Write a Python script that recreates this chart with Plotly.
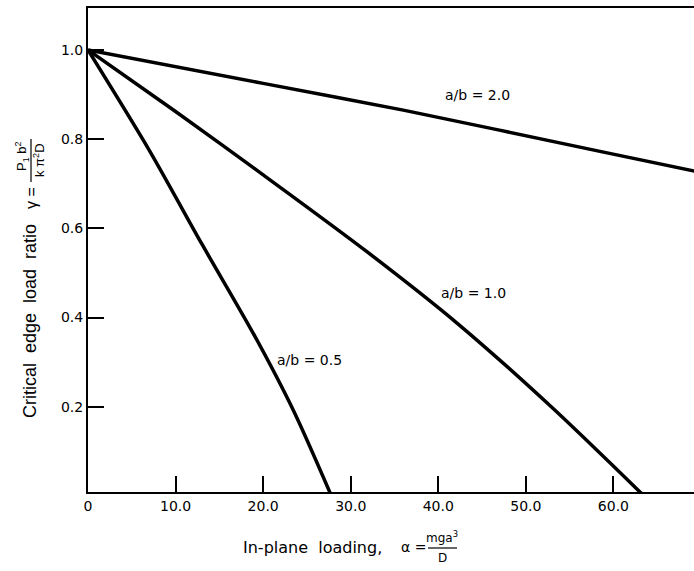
import plotly.graph_objects as go

# Critical edge load ratio (gamma) against in-plane loading (alpha) for three plate aspect ratios
alpha_05 = [0.0, 7.0, 13.0, 19.0, 23.5, 27.8]
gamma_05 = [1.0, 0.775, 0.565, 0.36, 0.19, 0.0]

alpha_10 = [0.0, 10.0, 20.0, 31.7, 42.0, 52.9, 63.5]
gamma_10 = [1.0, 0.862, 0.72, 0.55, 0.39, 0.20, 0.0]

alpha_20 = [0.0, 20.0, 36.0, 58.6, 69.3]
gamma_20 = [1.0, 0.925, 0.865, 0.772, 0.728]

curve_names = ["a/b = 0.5", "a/b = 1.0", "a/b = 2.0"]
# label anchor for each curve (alpha, gamma)
label_alpha = [25.3, 44.0, 44.5]
label_gamma = [0.305, 0.455, 0.90]

x_tickvals = [0, 10, 20, 30, 40, 50, 60]
x_ticktext = ["0", "10.0", "20.0", "30.0", "40.0", "50.0", "60.0"]
y_tickvals = [0.2, 0.4, 0.6, 0.8, 1.0]
y_ticktext = ["0.2", "0.4", "0.6", "0.8", "1.0"]

LETTER = "DejaVu Sans"
SANS = "Liberation Sans"
W, H = 694, 571
ML, MR, MT, MB = 88, 0, 8, 79
PW, PH = W - ML - MR, H - MT - MB


def px(xp):
    return (xp - ML) / PW


def py(yp):
    return (H - MB - yp) / PH


def note(xp, yp, text, size, family, angle=0):
    return dict(x=px(xp), y=py(yp), xref="paper", yref="paper", text=text,
                textangle=angle, xanchor="center", yanchor="middle",
                showarrow=False, font=dict(size=size, color="black", family=family))


fig = go.Figure()
for xs, ys, name in zip([alpha_05, alpha_10, alpha_20],
                        [gamma_05, gamma_10, gamma_20], curve_names):
    fig.add_trace(go.Scatter(x=xs, y=ys, mode="lines", name=name,
                             line=dict(color="black", width=3.5,
                                       shape="spline", smoothing=0.8),
                             showlegend=False, hoverinfo="skip"))

annotations = []
for name, ax_, ay_ in zip(curve_names, label_alpha, label_gamma):
    annotations.append(dict(x=ax_, y=ay_, xref="x", yref="y", text=name,
                            xanchor="center", yanchor="middle", showarrow=False,
                            font=dict(size=14, color="black", family=LETTER)))

# y-axis title: words plus a stacked fraction, rotated
annotations += [
    note(30, 321, "Critical&nbsp;&nbsp;edge&nbsp;&nbsp;load&nbsp;&nbsp;ratio", 18, SANS, -90),
    note(31, 198, "γ =", 16, SANS, -90),
    note(22, 156, "P<sub>1</sub> b<sup>2</sup>", 13, SANS, -90),
    note(39, 160, "k π<sup>2</sup>D", 13, SANS, -90),
]
# x-axis title: words plus a stacked fraction
annotations += [
    note(312, 547, "In-plane&nbsp;&nbsp;loading,", 16, LETTER),
    note(413, 547, "α =", 14, LETTER),
    note(442, 537, "mga<sup>3</sup>", 12, LETTER),
    note(442, 558, "D", 12, LETTER),
]

shapes = [
    dict(type="line", xref="paper", yref="paper", x0=px(31), x1=px(31),
         y0=py(139), y1=py(182), line=dict(color="black", width=1.2)),
    dict(type="line", xref="paper", yref="paper", x0=px(428), x1=px(457),
         y0=py(548), y1=py(548), line=dict(color="black", width=1.2)),
]

fig.update_layout(
    width=W, height=H,
    margin=dict(l=ML, r=MR, t=MT, b=MB, pad=0),
    paper_bgcolor="white", plot_bgcolor="white",
    font=dict(family=LETTER, size=14, color="black"),
    annotations=annotations, shapes=shapes,
    xaxis=dict(range=[0, 69.2], tickvals=x_tickvals, ticktext=x_ticktext,
               ticks="inside", ticklen=16, tickwidth=1.5, tickcolor="black",
               showline=True, linecolor="black", linewidth=2, mirror=True,
               showgrid=False, zeroline=False,
               tickfont=dict(size=14, family=LETTER, color="black")),
    yaxis=dict(range=[0.009, 1.094], tickvals=y_tickvals, ticktext=y_ticktext,
               ticks="inside", ticklen=16, tickwidth=1.5, tickcolor="black",
               showline=True, linecolor="black", linewidth=2,
               showgrid=False, zeroline=False,
               tickfont=dict(size=14, family=LETTER, color="black")),
)

fig.write_html("out.html")
